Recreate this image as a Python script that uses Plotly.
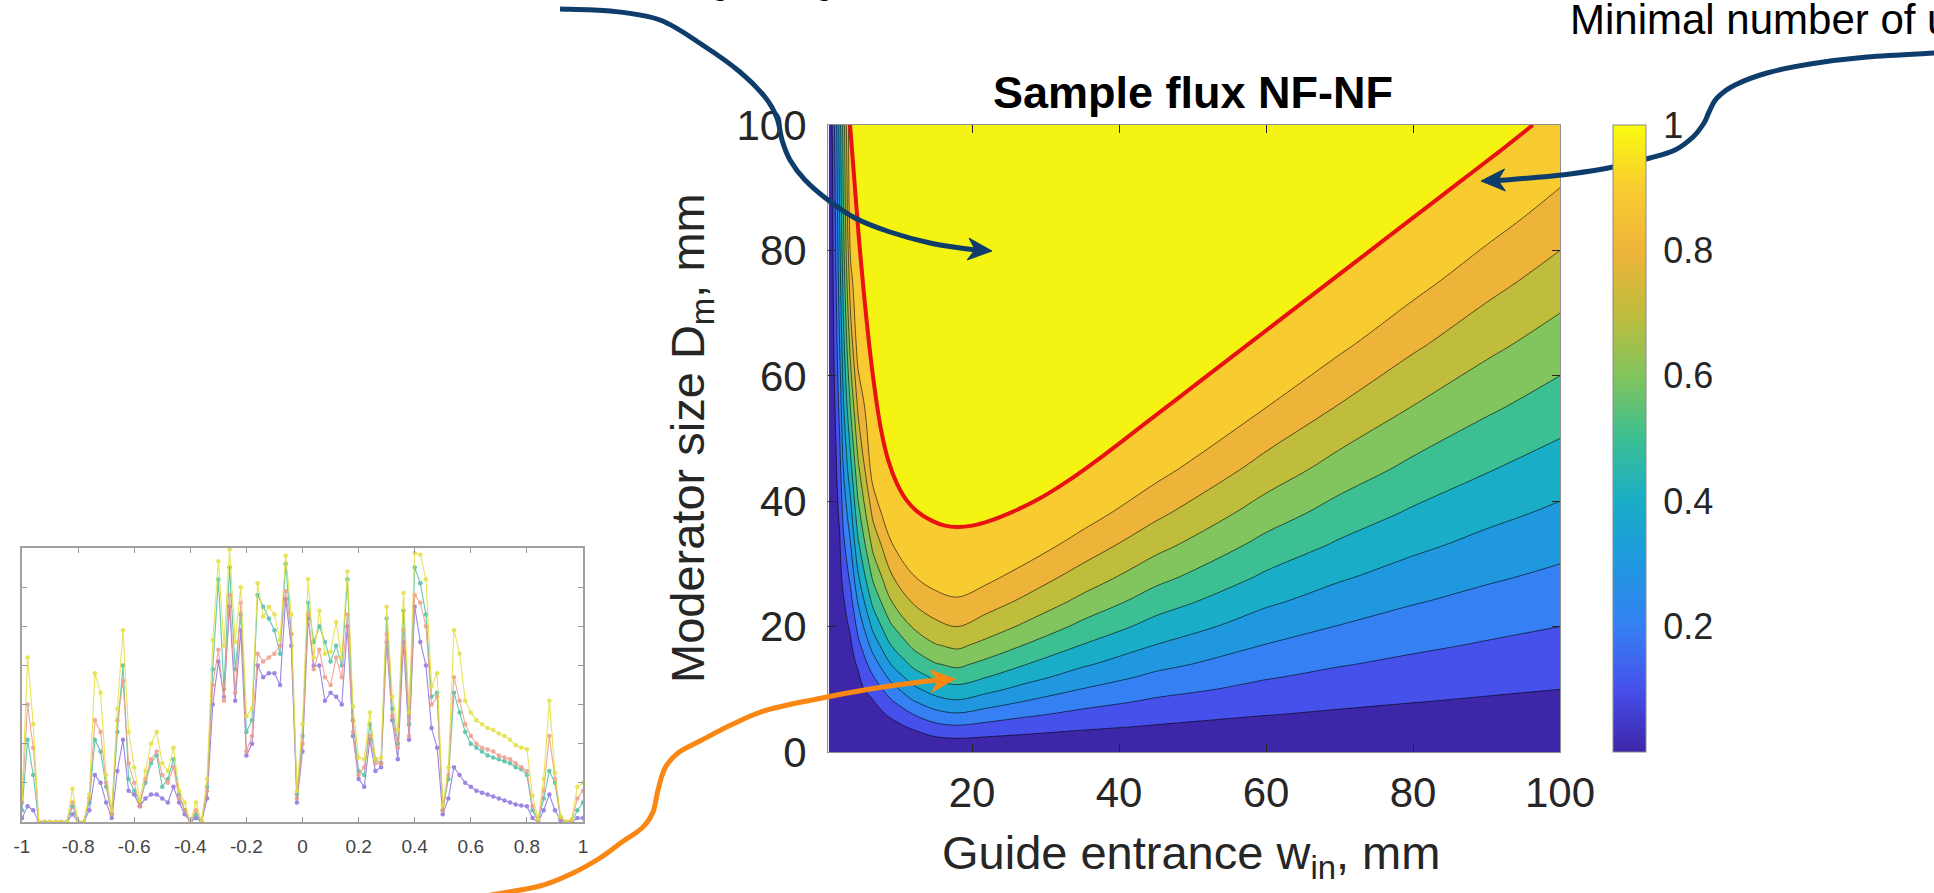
import math
import plotly.graph_objects as go

W, H = 1934, 893
FONT = "Liberation Sans, Arial, Helvetica, sans-serif"

# ---------------- main chart: Sample flux NF-NF ----------------
w_in = [0.5, 1, 1.5, 2, 2.5, 3, 3.5, 4.5, 6.5, 9, 12, 15, 18, 22, 27, 35, 45, 60, 70, 80, 90, 100]
d_m = [0, 2, 4, 6, 8, 10, 12, 14, 17, 20, 24, 28, 33, 38, 45, 55, 65, 75, 85, 100]

# normalised sample flux, one list per guide-entrance column (values along d_m)
flux_w0_5 = [0, .001, .002, .003, .004, .005, .006, .007, .0085, .01, .012, .014, .0165, .019, .0225, .0275, .0325, .0375, .0425, .05]
flux_w1 = [0, .002, .004, .006, .008, .01, .012, .014, .017, .02, .024, .028, .033, .038, .045, .055, .065, .075, .085, .105]
flux_w1_5 = [0, .004, .008, .012, .016, .02, .024, .028, .034, .04, .048, .056, .066, .076, .09, .12, .16, .2, .228, .27]
flux_w2 = [0, .006, .011, .017, .022, .028, .033, .039, .047, .056, .067, .078, .092, .114, .164, .236, .306, .361, .408, .45]
flux_w2_5 = [0, .008, .015, .023, .031, .038, .046, .054, .065, .077, .092, .122, .178, .23, .3, .391, .469, .535, .594, .64]
flux_w3 = [0, .009, .018, .027, .036, .045, .055, .064, .077, .091, .125, .175, .238, .3, .388, .5, .61, .707, .779, .84]
flux_w3_5 = [0, .011, .021, .032, .042, .053, .063, .074, .089, .114, .171, .229, .3, .371, .471, .614, .75, .867, .978, 1.0]
flux_w4_5 = [0, .015, .03, .044, .059, .074, .089, .11, .17, .23, .31, .39, .482, .567, .677, .82, .953, 1.0, 1.0, 1.0]
flux_w6_5 = [0, .023, .046, .069, .092, .136, .192, .25, .337, .421, .524, .617, .724, .821, .944, 1.0, 1.0, 1.0, 1.0, 1.0]
flux_w9 = [0, .036, .071, .114, .186, .259, .332, .403, .5, .588, .697, .791, .89, .988, 1.0, 1.0, 1.0, 1.0, 1.0, 1.0]
flux_w12 = [0, .054, .113, .2, .291, .375, .452, .523, .621, .71, .811, .896, 1.0, 1.0, 1.0, 1.0, 1.0, 1.0, 1.0, 1.0]
flux_w15 = [0, .08, .168, .265, .359, .444, .521, .593, .693, .774, .863, .946, 1.0, 1.0, 1.0, 1.0, 1.0, 1.0, 1.0, 1.0]
flux_w18 = [0, .091, .186, .289, .386, .471, .548, .621, .719, .8, .885, .97, 1.0, 1.0, 1.0, 1.0, 1.0, 1.0, 1.0, 1.0]
flux_w22 = [0, .082, .166, .256, .345, .427, .503, .571, .669, .752, .844, .926, 1.0, 1.0, 1.0, 1.0, 1.0, 1.0, 1.0, 1.0]
flux_w27 = [0, .071, .144, .218, .297, .371, .44, .506, .598, .685, .783, .864, .962, 1.0, 1.0, 1.0, 1.0, 1.0, 1.0, 1.0]
flux_w35 = [0, .057, .115, .174, .235, .297, .356, .414, .496, .574, .673, .761, .857, .947, 1.0, 1.0, 1.0, 1.0, 1.0, 1.0]
flux_w45 = [0, .046, .092, .138, .184, .232, .28, .327, .397, .463, .549, .633, .732, .821, .934, 1.0, 1.0, 1.0, 1.0, 1.0]
flux_w60 = [0, .034, .069, .103, .138, .173, .208, .243, .296, .348, .417, .485, .567, .649, .758, .901, 1.0, 1.0, 1.0, 1.0]
flux_w70 = [0, .029, .059, .088, .117, .147, .176, .206, .251, .296, .355, .413, .486, .557, .656, .793, .921, 1.0, 1.0, 1.0]
flux_w80 = [0, .025, .051, .076, .102, .127, .153, .179, .217, .256, .307, .358, .422, .485, .573, .697, .818, .935, 1.0, 1.0]
flux_w90 = [0, .022, .045, .067, .09, .112, .135, .157, .191, .225, .27, .315, .371, .427, .506, .617, .727, .836, .945, 1.0]
flux_w100 = [0, .02, .04, .06, .08, .1, .12, .14, .17, .2, .24, .28, .33, .38, .45, .55, .65, .75, .85, 1.0]

flux_cols = [flux_w0_5, flux_w1, flux_w1_5, flux_w2, flux_w2_5, flux_w3, flux_w3_5, flux_w4_5,
             flux_w6_5, flux_w9, flux_w12, flux_w15, flux_w18, flux_w22, flux_w27, flux_w35,
             flux_w45, flux_w60, flux_w70, flux_w80, flux_w90, flux_w100]
flux = [list(row) for row in zip(*flux_cols)]   # rows along d_m, columns along w_in

level_start, level_end, level_step = 0.1, 0.9, 0.1

# highlighted (red) iso-line of the flux maximum
red_w = [3.4, 4.0, 4.6, 5.3, 6.0, 6.8, 7.6, 8.6, 9.7, 11.0, 12.6, 14.5, 16.3, 18.0, 20.0, 22.5,
         25.5, 29.0, 33.0, 38.0, 44.0, 51.0, 58.0, 65.0, 72.0, 79.0, 86.0, 92.0, 96.3]
red_d = [100, 91, 82, 73, 65, 57.5, 51.5, 46.5, 43.0, 40.3, 38.3, 36.9, 36.1, 35.9, 36.1, 36.9,
         38.3, 40.3, 43.2, 47.4, 52.8, 59.1, 65.4, 71.7, 78.0, 84.3, 90.6, 96.0, 100]

x_ticks = [20, 40, 60, 80, 100]
y_ticks = [0, 20, 40, 60, 80, 100]
cb_ticks = [0.2, 0.4, 0.6, 0.8, 1]
cb_labels = ["0.2", "0.4", "0.6", "0.8", "1"]

# parula-like colours of the bands (value of the lower level of each band)
band_colors = ["#3E26A8", "#4650EA", "#3580F2", "#1F98DF", "#1AADC7",
               "#3CBF93", "#82C45D", "#C0BC3C", "#EEB43A", "#F8CC30"]
top_color = "#F9FB0E"
inside_red_color = "#F5F312"

# ---------------- small inset chart ----------------
pos = [-1.0, -0.98, -0.96, -0.94, -0.92, -0.9, -0.88, -0.86, -0.84, -0.82,
       -0.8, -0.78, -0.76, -0.74, -0.72, -0.7, -0.68, -0.66, -0.64, -0.62,
       -0.6, -0.58, -0.56, -0.54, -0.52, -0.5, -0.48, -0.46, -0.44, -0.42,
       -0.4, -0.38, -0.36, -0.34, -0.32, -0.3, -0.28, -0.26, -0.24, -0.22,
       -0.2, -0.18, -0.16, -0.14, -0.12, -0.1, -0.08, -0.06, -0.04, -0.02,
       0.0, 0.02, 0.04, 0.06, 0.08, 0.1, 0.12, 0.14, 0.16, 0.18,
       0.2, 0.22, 0.24, 0.26, 0.28, 0.3, 0.32, 0.34, 0.36, 0.38,
       0.4, 0.42, 0.44, 0.46, 0.48, 0.5, 0.52, 0.54, 0.56, 0.58,
       0.6, 0.62, 0.64, 0.66, 0.68, 0.7, 0.72, 0.74, 0.76, 0.78,
       0.8, 0.82, 0.84, 0.86, 0.88, 0.9, 0.92, 0.94, 0.96, 0.98, 1.0]

s_yellow = [0.6, 4.2, 2.5, 0, 0, 0, 0, 0, 0, 0.85,
            0, 0, 0.7, 3.8, 3.3, 1.2, 0.3, 2.9, 4.9, 2.3,
            1.4, 0.55, 1.3, 2.0, 2.3, 1.5, 1.3, 1.9, 0.8, 0.5,
            0, 0.5, 0, 1.1, 4.65, 6.66, 4.5, 6.96, 4.6, 6.0,
            2.7, 2.9, 6.1, 5.25, 5.5, 5.3, 4.65, 6.8, 5.3, 0.8,
            2.5, 6.2, 4.2, 5.4, 4.3, 4.35, 5.1, 4.2, 6.4, 2.95,
            1.65, 1.6, 2.8, 1.6, 1.65, 5.5, 3.2, 2.35, 5.85, 2.8,
            6.87, 6.83, 6.2, 3.46, 3.8, 0.43, 1.4, 4.9, 4.3, 3.1,
            2.8, 2.6, 2.5, 2.4, 2.35, 2.26, 2.2, 2.1, 1.96, 1.9,
            1.86, 0.67, 0.07, 1.1, 3.1, 1.26, 0.15, 0, 0.07, 0.9, 1.0]
s_teal = [0.3, 2.1, 1.2, 0, 0, 0, 0, 0, 0, 0.4,
          0, 0, 0.5, 2.1, 1.8, 0.9, 0.2, 2.3, 4.0, 1.1,
          0.8, 0.5, 1.0, 1.5, 1.7, 0.9, 1.1, 1.6, 0.7, 0.3,
          0, 0.2, 0, 0.9, 3.9, 6.2, 3.4, 6.5, 3.9, 5.3,
          2.3, 2.6, 5.8, 5.5, 5.2, 4.9, 4.3, 6.6, 4.8, 0.7,
          2.2, 5.6, 4.6, 5.0, 4.6, 4.1, 4.5, 4.0, 6.2, 2.6,
          1.3, 1.2, 2.5, 1.6, 1.5, 5.2, 2.9, 2.0, 5.4, 2.5,
          6.5, 6.1, 5.3, 3.2, 3.3, 0.3, 1.1, 3.3, 2.8, 2.3,
          2.0, 1.9, 1.8, 1.7, 1.65, 1.6, 1.55, 1.5, 1.4, 1.35,
          1.2, 0.3, 0, 0.6, 1.3, 1.0, 0.1, 0, 0, 0.3, 0.5]
s_salmon = [0.5, 3.0, 1.9, 0, 0, 0, 0, 0, 0, 0.5,
            0, 0, 0.6, 2.6, 2.3, 1.0, 0.2, 2.6, 3.6, 1.5,
            1.0, 0.4, 1.1, 1.6, 1.8, 1.2, 1.0, 1.4, 0.6, 0.3,
            0, 0.3, 0, 0.8, 3.5, 4.4, 3.1, 5.8, 3.3, 5.6,
            1.8, 2.2, 4.3, 4.1, 4.2, 4.3, 4.5, 5.9, 4.8, 0.6,
            2.0, 5.3, 3.9, 4.4, 3.7, 3.5, 4.2, 3.7, 5.3, 2.3,
            1.2, 1.4, 2.2, 1.5, 1.5, 4.8, 2.7, 1.9, 4.9, 2.2,
            5.8, 5.6, 5.0, 3.0, 3.2, 0.3, 1.2, 3.7, 3.1, 2.5,
            2.2, 2.0, 1.9, 1.85, 1.8, 1.7, 1.65, 1.6, 1.5, 1.4,
            1.3, 0.4, 0.05, 0.8, 2.2, 1.1, 0.1, 0, 0.05, 0.6, 0.8]
s_purple = [0.1, 0.4, 0.3, 0, 0, 0, 0, 0, 0, 0.2,
            0, 0, 0.3, 1.2, 1.0, 0.5, 0.1, 1.3, 2.1, 0.8,
            0.7, 0.4, 0.6, 0.7, 0.7, 0.6, 0.5, 0.9, 0.5, 0.2,
            0, 0.1, 0, 0.6, 3.0, 4.1, 3.2, 5.5, 3.1, 4.9,
            1.7, 2.0, 4.0, 3.7, 3.8, 3.8, 3.5, 5.7, 4.5, 0.5,
            1.8, 5.2, 4.0, 4.0, 3.1, 3.3, 3.2, 3.0, 5.0, 2.2,
            1.1, 0.9, 2.1, 1.3, 1.4, 4.6, 2.6, 1.6, 4.6, 2.1,
            5.5, 4.6, 4.0, 2.4, 1.9, 0.2, 0.6, 1.4, 1.2, 1.0,
            0.9, 0.8, 0.75, 0.7, 0.65, 0.6, 0.55, 0.5, 0.45, 0.42,
            0.4, 0.1, 0, 0.3, 0.7, 0.3, 0.05, 0, 0, 0.1, 0.1]
inset_ticks = [-1, -0.8, -0.6, -0.4, -0.2, 0, 0.2, 0.4, 0.6, 0.8, 1]
inset_labels = ["-1", "-0.8", "-0.6", "-0.4", "-0.2", "0", "0.2", "0.4", "0.6", "0.8", "1"]

# ---------------- figure ----------------
fig = go.Figure()

n_bands = len(band_colors)
fill_scale = [[k / (n_bands - 1), c] for k, c in enumerate(band_colors)]
bar_scale = [[k / n_bands, c] for k, c in enumerate(band_colors)] + [[1.0, top_color]]

fig.add_trace(go.Contour(
    x=w_in, y=d_m, z=flux,
    autocontour=False,
    contours=dict(start=level_start, end=level_end, size=level_step, coloring="fill"),
    colorscale=fill_scale, showscale=False,
    line=dict(color="rgba(0,0,0,0.85)", width=0.7, smoothing=1),
    hoverinfo="skip", xaxis="x", yaxis="y"))

# region of maximal flux, bounded by the red iso-line
fig.add_trace(go.Scatter(
    x=red_w, y=red_d, mode="lines", fill="toself", fillcolor=inside_red_color,
    line=dict(width=0, shape="spline", smoothing=0.8, color=inside_red_color),
    showlegend=False, hoverinfo="skip", xaxis="x", yaxis="y"))
fig.add_trace(go.Scatter(
    x=red_w, y=red_d, mode="lines",
    line=dict(width=4, shape="spline", smoothing=0.8, color="rgb(232,18,18)"),
    showlegend=False, hoverinfo="skip", xaxis="x", yaxis="y"))

# continuous colour bar
fig.add_trace(go.Scatter(
    x=[None], y=[None], mode="markers", showlegend=False, hoverinfo="skip",
    marker=dict(color=[0.5], cmin=0, cmax=1, colorscale=bar_scale, showscale=True,
                colorbar=dict(
                    x=1613 / W, xanchor="left", xpad=0,
                    y=(H - 125) / H, yanchor="top", ypad=0,
                    len=627 / H, lenmode="fraction",
                    thickness=33, thicknessmode="pixels",
                    tickvals=cb_ticks, ticktext=cb_labels,
                    ticks="outside", ticklen=10, tickcolor="rgba(0,0,0,0)",
                    tickfont=dict(family=FONT, size=36, color="#262626"),
                    outlinecolor="#8a8a8a", outlinewidth=1)),
    xaxis="x", yaxis="y"))

inset_series = [(s_purple, "#8E70E0"), (s_teal, "#49BFA5"), (s_salmon, "#EE9A86"), (s_yellow, "#E3E03A")]
for vals, col in inset_series:
    fig.add_trace(go.Scatter(
        x=pos, y=vals, mode="lines+markers", showlegend=False, hoverinfo="skip",
        line=dict(color=col, width=1.1),
        marker=dict(color=col, size=4.5),
        opacity=0.85, xaxis="x2", yaxis="y2"))

axis_common = dict(showgrid=False, zeroline=False, ticks="inside", ticklen=8, tickwidth=1,
                   tickcolor="#262626", showline=True, linecolor="rgba(70,70,70,0.6)",
                   linewidth=1, mirror="ticks", automargin=False,
                   tickfont=dict(family=FONT, size=42, color="#262626"))

fig.update_layout(
    width=W, height=H, autosize=False,
    margin=dict(l=0, r=0, t=0, b=0, pad=0, autoexpand=False),
    paper_bgcolor="white", plot_bgcolor="white",
    font=dict(family=FONT, color="#262626"),
    showlegend=False,
    xaxis=dict(domain=[828 / W, 1560 / W], range=[0.4, 100], tickvals=x_ticks,
               anchor="y", ticklabelstandoff=4, **axis_common),
    yaxis=dict(domain=[(H - 752) / H, (H - 125) / H], range=[0, 100], tickvals=y_ticks,
               anchor="x", ticklabelstandoff=12, **axis_common),
    xaxis2=dict(domain=[22 / W, 583 / W], range=[-1, 1], anchor="y2",
                tickvals=inset_ticks, ticktext=inset_labels, automargin=False,
                showgrid=False, zeroline=False, ticks="inside", ticklen=5,
                tickcolor="#9a9a9a", showline=True, linecolor="#a0a0a0", linewidth=1.5,
                mirror="ticks", ticklabelstandoff=6,
                tickfont=dict(family=FONT, size=19, color="#444444")),
    yaxis2=dict(domain=[(H - 822) / H, (H - 548) / H], range=[0, 7], anchor="x2",
                tickvals=[0, 1, 2, 3, 4, 5, 6, 7], showticklabels=False, automargin=False,
                showgrid=False, zeroline=False, ticks="inside", ticklen=5,
                tickcolor="#9a9a9a", showline=True, linecolor="#a0a0a0", linewidth=1.5,
                mirror="ticks"),
)

# ---------------- texts ----------------
def px(x, y):
    return x / W, 1 - y / H

annots = []
tx, ty = px(1193, 92)
annots.append(dict(text="<b>Sample flux NF-NF</b>", x=tx, y=ty, xanchor="center", yanchor="middle",
                   font=dict(family=FONT, size=45, color="#000000")))
tx, ty = px(1191, 856)
annots.append(dict(text="Guide entrance w<sub>in</sub>, mm", x=tx, y=ty, xanchor="center", yanchor="middle",
                   font=dict(family=FONT, size=47, color="#262626")))
tx, ty = px(691, 438)
annots.append(dict(text="Moderator size D<sub>m</sub>, mm", x=tx, y=ty, xanchor="center", yanchor="middle",
                   textangle=-90, font=dict(family=FONT, size=47, color="#262626")))
tx, ty = px(1568, 20)
annots.append(dict(text="Minimal number of units", x=tx, y=ty, xanchor="left", yanchor="middle",
                   font=dict(family=FONT, size=42, color="#000000")))
tx, ty = px(855, -18)
annots.append(dict(text="Moderator is big enough", x=tx, y=ty, xanchor="right", yanchor="middle",
                   font=dict(family=FONT, size=34, color="#000000")))
for a in annots:
    a.update(xref="paper", yref="paper", showarrow=False)
fig.update_layout(annotations=annots)

# ---------------- curved arrows (decoration, pixel coordinates) ----------------
def P(p):
    x, y = px(*p)
    return f"{x:.5f},{y:.5f}"

def smooth_path(pts):
    d = "M" + P(pts[0])
    n = len(pts)
    for i in range(n - 1):
        p0 = pts[i - 1] if i > 0 else pts[i]
        p1, p2 = pts[i], pts[i + 1]
        p3 = pts[i + 2] if i + 2 < n else pts[i + 1]
        c1 = (p1[0] + (p2[0] - p0[0]) / 6, p1[1] + (p2[1] - p0[1]) / 6)
        c2 = (p2[0] - (p3[0] - p1[0]) / 6, p2[1] - (p3[1] - p1[1]) / 6)
        d += " C" + P(c1) + " " + P(c2) + " " + P(p2)
    return d

def arrow_shapes(pts, color, width=5, hl=24, hw=11, notch=7):
    tip, prev = pts[-1], pts[-2]
    dx, dy = tip[0] - prev[0], tip[1] - prev[1]
    nrm = math.hypot(dx, dy)
    ux, uy = dx / nrm, dy / nrm
    nx, ny = -uy, ux
    left = (tip[0] - hl * ux + hw * nx, tip[1] - hl * uy + hw * ny)
    right = (tip[0] - hl * ux - hw * nx, tip[1] - hl * uy - hw * ny)
    back = (tip[0] - (hl - notch) * ux, tip[1] - (hl - notch) * uy)
    body = pts[:-1] + [back]
    return [
        dict(type="path", path=smooth_path(body), xref="paper", yref="paper",
             line=dict(color=color, width=width), fillcolor="rgba(0,0,0,0)", layer="above"),
        dict(type="path", path="M" + P(tip) + " L" + P(left) + " L" + P(back) + " L" + P(right) + " Z",
             xref="paper", yref="paper", line=dict(color=color, width=1), fillcolor=color, layer="above"),
    ]

navy = "#0E3D6B"
orange = "#F98714"
arrow1 = [(560, 9), (610, 11), (660, 20), (704, 46), (740, 72), (765, 97), (777, 118), (782, 140),
          (790, 160), (805, 180), (828, 200), (855, 218), (890, 232), (930, 243), (968, 249), (992, 251)]
arrow2 = [(1936, 53), (1867, 57), (1810, 64), (1767, 73), (1735, 85), (1717, 98), (1709, 112),
          (1704, 123), (1693, 137), (1675, 150), (1650, 158), (1613, 167), (1570, 174), (1530, 178),
          (1505, 180), (1481, 181)]
arrow3 = [(490, 895), (540, 886), (573, 873), (600, 858), (622, 842), (642, 828), (653, 812),
          (658, 790), (665, 768), (678, 753), (700, 741), (733, 724), (767, 710), (817, 699),
          (870, 689), (920, 682), (955, 679)]

shapes = arrow_shapes(arrow1, navy) + arrow_shapes(arrow2, navy) + arrow_shapes(arrow3, orange)
fig.update_layout(shapes=shapes)

fig.write_html("out.html")
